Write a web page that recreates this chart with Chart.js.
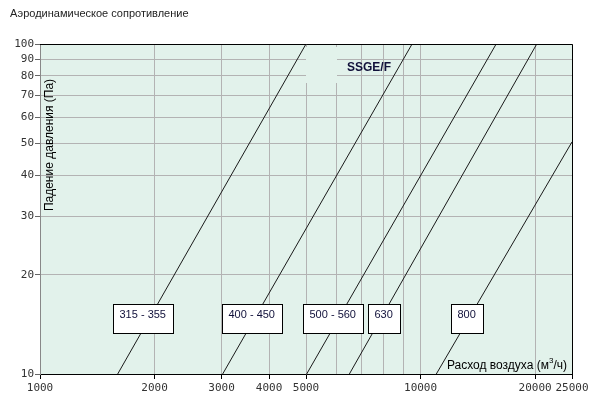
<!DOCTYPE html>
<html>
<head>
<meta charset="utf-8">
<script src="https://cdn.jsdelivr.net/npm/chart.js@4"></script>
<style>
body{margin:0;background:#fff;}
canvas{display:block;}
</style>
</head>
<body>
<canvas id="c" width="602" height="404"></canvas>
<script>
/* DATA */
const sizes=['315 - 355','400 - 450','500 - 560','630','800'];
const flowStart=[1600,3020,5020,6500,11000];
const dropStart=[10,10,10,10,10];
const flowEnd=[5000,9500,15800,20200,25000];
const dropEnd=[100,100,100,100,50.5];

const xTicks=[1000,2000,3000,4000,5000,6000,7000,8000,9000,10000,20000,25000];
const xLabels=[1000,2000,3000,4000,5000,10000,20000,25000];
const yTicks=[10,20,30,40,50,60,70,80,90,100];

/* label boxes: left edge (flow), top (Pa) */
const boxFlow=[1555,3004,4900,7260,11990];
const boxDrop=16.3;

const bg='#e2f2eb';
const grid='#b3b3b3';

/* PLUGIN */
const deco={
id:'deco',
beforeDraw(ch){
const a=ch.chartArea,c=ch.ctx;
c.save();
c.fillStyle=bg;
c.fillRect(a.left,a.top,a.right-a.left,a.bottom-a.top);
c.restore();
},
beforeDatasetsDraw(ch){
// patch behind the SSGE/F label
const a=ch.chartArea,c=ch.ctx;
c.save();
c.fillStyle=bg;
c.fillRect(a.left+266,a.top+3,31,36);
c.restore();
},
afterDraw(ch){
const a=ch.chartArea,c=ch.ctx,x=ch.scales.x,y=ch.scales.y;
c.save();
// top + right border
c.strokeStyle='#000';
c.lineWidth=1;
c.beginPath();
c.moveTo(a.left,a.top+0.5);
c.lineTo(a.right+0.5,a.top+0.5);
c.lineTo(a.right+0.5,a.bottom);
c.stroke();

// title
c.fillStyle='#222';
c.font='11px "Liberation Sans"';
c.textBaseline='alphabetic';
c.textAlign='left';
c.fillText('Аэродинамическое сопротивление',10,17);

// size boxes
c.font='11px "Liberation Sans"';
c.textBaseline='middle';
sizes.forEach((s,i)=>{
const bx=Math.round(x.getPixelForValue(boxFlow[i]))+0.5;
const by=Math.round(y.getPixelForValue(boxDrop))+0.5;
const w=Math.round(c.measureText(s).width)+14;
c.fillStyle='#fff';
c.fillRect(bx,by,w,29);
c.strokeStyle='#000';
c.strokeRect(bx,by,w,29);
c.fillStyle='#10103a';
c.fillText(s,bx+6,by+10.5);
});

// series name
c.font='bold 12px "Liberation Sans"';
c.fillStyle='#10103a';
c.fillText('SSGE/F',a.left+307,a.top+24);

// y title inside plot
c.font='12px "Liberation Sans"';
c.fillStyle='#000';
c.save();
c.translate(a.left+10,a.top+101);
c.rotate(-Math.PI/2);
c.textAlign='center';
c.fillText('Падение давления (Па)',0,0);
c.restore();

// x title inside plot, right aligned
c.textAlign='left';
c.textBaseline='alphabetic';
const p1='Расход воздуха (м',p2='3',p3='/ч)';
c.font='12px "Liberation Sans"';
const w1=c.measureText(p1).width,w3=c.measureText(p3).width;
c.font='8px "Liberation Sans"';
const w2=c.measureText(p2).width;
let tx=a.right-5-w1-w2-w3;
const ty=a.bottom-5;
c.font='12px "Liberation Sans"';
c.fillText(p1,tx,ty);
c.font='8px "Liberation Sans"';
c.fillText(p2,tx+w1,ty-6);
c.font='12px "Liberation Sans"';
c.fillText(p3,tx+w1+w2,ty);
c.restore();
}
};

/* DATASETS */
const sets=sizes.map((s,i)=>({
label:s,
data:[{x:flowStart[i],y:dropStart[i]},{x:flowEnd[i],y:dropEnd[i]}],
borderColor:'#1a1a1a',
borderWidth:1,
pointRadius:0,
fill:false
}));

new Chart(document.getElementById('c'),{
type:'line',
data:{datasets:sets},
plugins:[deco],
options:{
responsive:false,
animation:false,
layout:{padding:{top:44,right:30,left:0,bottom:0}},
plugins:{legend:{display:false},tooltip:{enabled:false}},
scales:{
x:{
type:'logarithmic',
min:1000,max:25000,
afterBuildTicks:s=>{s.ticks=xTicks.map(v=>({value:v}));},
afterFit:s=>{s.height=30;},
ticks:{
autoSkip:false,maxRotation:0,padding:3,
color:'#333',
font:{family:'"DejaVu Sans Mono"',size:11},
callback:v=>xLabels.includes(v)?String(v):''
},
grid:{
color:grid,
tickLength:5,
tickColor:c=>c.tick&&xLabels.includes(c.tick.value)?'#000':'rgba(0,0,0,0)'
},
border:{color:'#000'}
},
y:{
type:'logarithmic',
min:10,max:100,
afterBuildTicks:s=>{s.ticks=yTicks.map(v=>({value:v}));},
afterFit:s=>{s.width=40;},
ticks:{
autoSkip:false,padding:1,
color:'#333',
font:{family:'"DejaVu Sans Mono"',size:11},
callback:v=>String(v)
},
grid:{color:grid,tickLength:5,tickColor:'#666'},
border:{color:'#888'}
}
}
}
});
</script>
</body>
</html>
